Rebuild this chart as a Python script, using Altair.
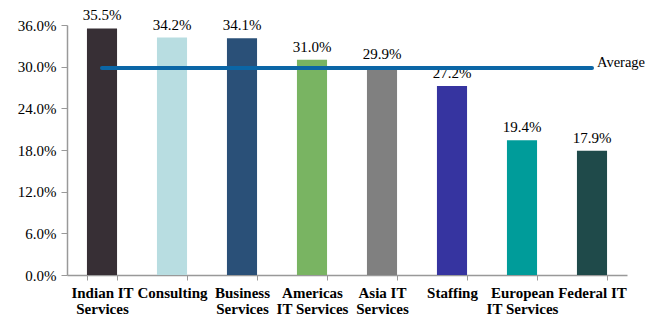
import altair as alt
import pandas as pd

categories = ["Indian IT|Services", "Consulting", "Business|Services", "Americas|IT Services",
              "Asia IT|Services", "Staffing", "European|IT Services", "Federal IT"]
values = [35.5, 34.2, 34.1, 31.0, 29.9, 27.2, 19.4, 17.9]
colors = ["#372F35", "#B8DDE1", "#2A5078", "#79B462", "#808080", "#3634A0", "#009C9A", "#1F4A4A"]
average = 29.8
y_ticks = [0, 6, 12, 18, 24, 30, 36]

df = pd.DataFrame({"cat": categories, "val": values, "label": [f"{v:.1f}%" for v in values]})
FONT = "Liberation Serif"

xscale = alt.Scale(domain=categories, paddingInner=0.57, paddingOuter=0.285)
x = alt.X("cat:N", title=None, scale=xscale,
          axis=alt.Axis(labelAngle=0, labelExpr="split(datum.label, '|')", labelFont=FONT,
                        labelFontWeight="bold", labelFontSize=15, labelColor="black",
                        tickBand="extent", domainColor="#999", tickColor="#999", domainWidth=1.5,
                        tickSize=5, labelPadding=5, labelLineHeight=16))
y = alt.Y("val:Q", title=None,
          scale=alt.Scale(domain=[0, 36], nice=False),
          axis=alt.Axis(values=y_ticks, labelExpr="format(datum.value, '.1f') + '%'",
                        labelFont=FONT, labelFontSize=15, labelColor="black", grid=False,
                        domainColor="#999", tickColor="#999", tickSize=6, labelPadding=5, domainWidth=1.5))

base = alt.Chart(df)
bars = base.mark_bar().encode(
    x=x, y=y,
    color=alt.Color("cat:N", scale=alt.Scale(domain=categories, range=colors), legend=None))
text = base.mark_text(baseline="bottom", dy=-5, font=FONT, fontSize=15, color="black").encode(
    x=alt.X("cat:N", scale=xscale), y="val:Q", text="label:N")

avg_df = pd.DataFrame({"a": [categories[0]], "b": [categories[-1]], "v": [average], "t": ["Average"]})
rule = alt.Chart(avg_df).mark_rule(color="#0B66A6", strokeWidth=4, strokeCap="round").encode(
    x=alt.X("a:N", scale=xscale), x2="b:N", y="v:Q")
avg_text = alt.Chart(avg_df).mark_text(align="left", baseline="middle", dx=5, dy=-5, font=FONT,
                                       fontSize=14.5, color="black").encode(
    x=alt.X("b:N", scale=xscale), y="v:Q", text="t:N")

chart = alt.layer(bars, text, rule, avg_text).properties(
    width=560, height=250, autosize=alt.AutoSizeParams(type="none"),
    padding={"left": 59, "top": 17, "right": 18, "bottom": 40}
).configure_view(stroke=None)

chart.save("out.html", embed_options={"renderer": "svg", "actions": False})
